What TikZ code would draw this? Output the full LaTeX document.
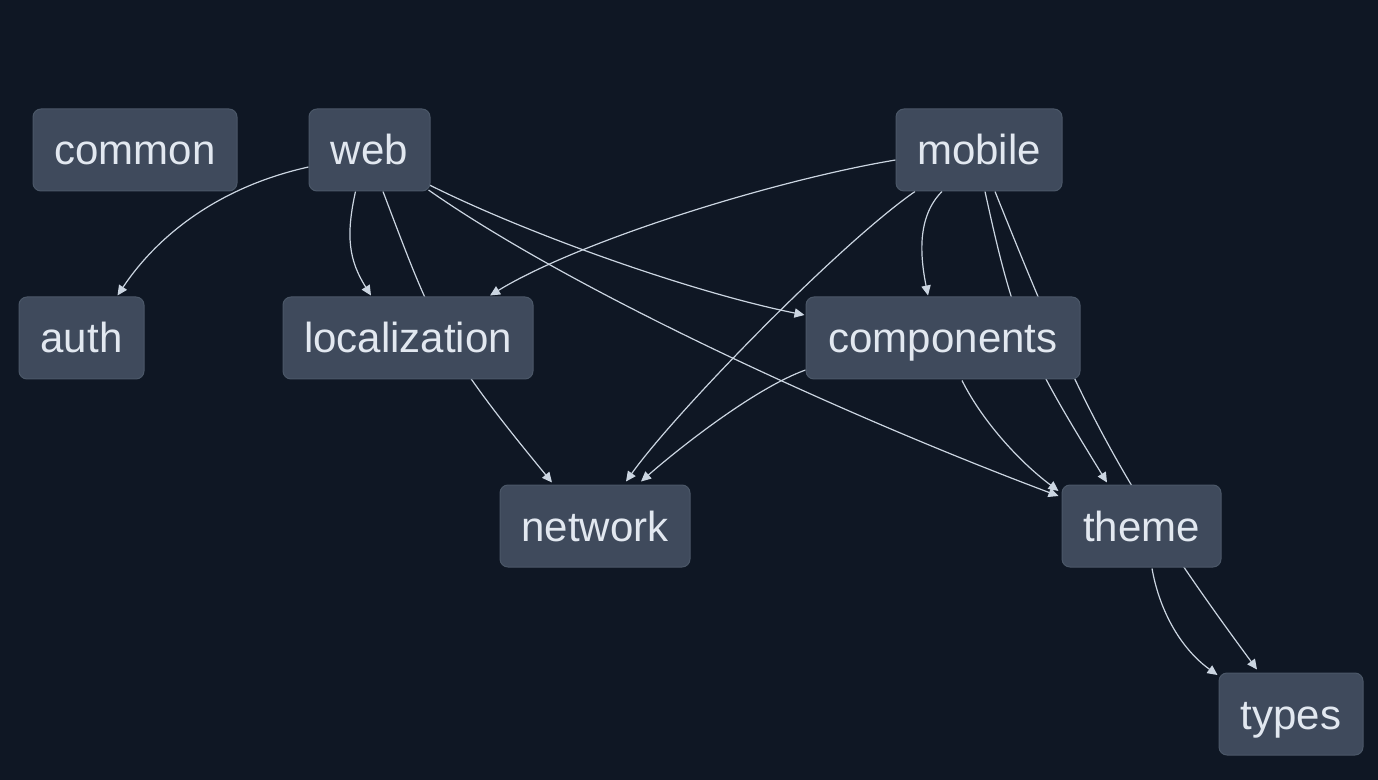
\documentclass[tikz,border=0pt]{standalone}
\usepackage{fontspec}
\setmainfont{Liberation Sans}
\usetikzlibrary{arrows.meta,calc}
\definecolor{bgc}{HTML}{0F1724}
\definecolor{nodefill}{HTML}{3F4A5C}
\definecolor{nodeline}{HTML}{4B5768}
\definecolor{edgec}{HTML}{CBD5E1}
\definecolor{txtc}{HTML}{E2E8F0}
\pgfdeclarelayer{bglayer}
\pgfdeclarelayer{edgelayer}
\pgfsetlayers{bglayer,edgelayer,main}
\begin{document}
\begin{tikzpicture}[x=0.75pt,y=-0.75pt,
  pkg/.style={draw=nodeline, line width=0.75pt, fill=nodefill, rounded corners=6pt,
    minimum height=61.5pt, inner sep=0pt, text height=25pt, text depth=2.5pt,
    text=txtc, font=\fontsize{31.5}{36}\selectfont},
  dep/.style={draw=edgec, line width=0.9pt, -{Triangle[length=7.5pt,width=7pt]}}]
\useasboundingbox (0,0) rectangle (1378,780);
\begin{pgfonlayer}{bglayer}
\fill[bgc] (0,0) rectangle (1378,780);
\end{pgfonlayer}

\node[pkg, minimum width=153pt]   (common)       at (135,150)    {common};
\node[pkg, minimum width=90.75pt] (web)          at (369.5,150)  {web};
\node[pkg, minimum width=124.5pt] (mobile)       at (979,150)    {mobile};
\node[pkg, minimum width=93.75pt] (auth)         at (81.5,338)   {auth};
\node[pkg, minimum width=187.5pt] (localization) at (408,338)    {localization};
\node[pkg, minimum width=205.5pt] (components)   at (943,338)    {components};
\node[pkg, minimum width=142.5pt] (network)      at (595,526)    {network};
\node[pkg, minimum width=119.25pt](theme)        at (1141.5,526) {theme};
\node[pkg, minimum width=108pt]   (types)        at (1291,714)   {types};

\begin{pgfonlayer}{edgelayer}
% web
\draw[dep] ($(web.west)+(0,17)$) .. controls +(-90,20) and +(40,-60) .. ($(auth.north)+(36,-1)$);
\draw[dep] ($(web.south)+(-14,0)$) .. controls +(-10,45) and +(-22,-35) .. ($(localization.north)+(-37,-1)$);
\draw[dep] ($(web.south)+(13.5,0)$) .. controls +(51,135) and +(-111,-135) .. ($(network.north)+(-43,-2)$);
\draw[dep] ($(web.east)+(-1,35)$) .. controls +(100,50) and +(-110,-22) .. ($(components.west)+(-1,-23)$);
\draw[dep] ($(web.east)+(-2,40)$) .. controls +(150,105) and +(-200,-75) .. ($(theme.west)+(-3,-30)$);
% mobile
\draw[dep] ($(mobile.west)+(0,10)$) .. controls +(-120,20) and +(90,-55) .. ($(localization.north)+(82,-1)$);
\draw[dep] ($(mobile.south)+(-64,0)$) .. controls +(-75,52) and +(50,-70) .. ($(network.north)+(31,-3)$);
\draw[dep] ($(mobile.south)+(-37,0)$) .. controls +(-25,25) and +(-8,-40) .. ($(components.north)+(-15,-1)$);
\draw[dep] ($(mobile.south)+(6,0)$) .. controls +(29,133) and +(-82,-133) .. ($(theme.north)+(-34.5,-2)$);
\draw[dep] ($(mobile.south)+(16,0)$) .. controls +(80,199) and +(-147,-199) .. ($(types.north)+(-34,-3)$);
% components
\draw[dep] ($(components.west)+(0,32)$) .. controls +(-50,18) and +(40,-35) .. ($(network.north)+(46,-3)$);
\draw[dep] ($(components.south)+(19,1)$) .. controls +(20,40) and +(-40,-30) .. ($(theme.west)+(-3,-35)$);
% theme
\draw[dep] ($(theme.south)+(10.5,1)$) .. controls +(8,45) and +(-35,-25) .. ($(types.west)+(-1,-39)$);
\end{pgfonlayer}
\end{tikzpicture}
\end{document}
